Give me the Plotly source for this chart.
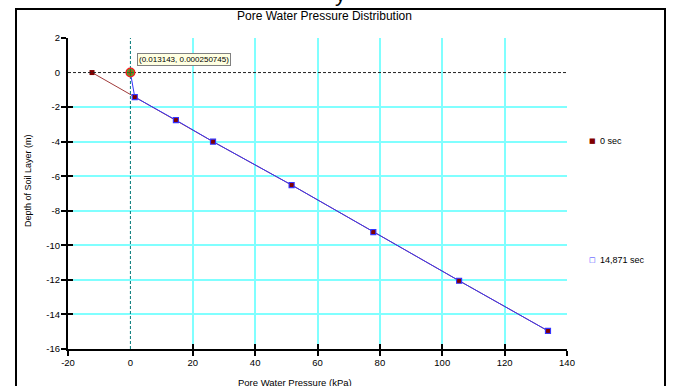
import plotly.graph_objects as go

# ---- data ----
x_ticks = [-20, 0, 20, 40, 60, 80, 100, 120, 140]
y_ticks = [2, 0, -2, -4, -6, -8, -10, -12, -14, -16]
x_range = [-20, 140]
y_range = [-16, 2]

series0_name = "0 sec"
series0_x = [-12.3, 1.4, 14.6, 26.5, 51.7, 77.9, 105.4, 133.9]
series0_y = [0.0, -1.42, -2.75, -4.0, -6.51, -9.23, -12.05, -14.95]

series1_name = "14,871 sec"
series1_x = [0.013143, 1.4, 14.6, 26.5, 51.7, 77.9, 105.4, 133.9]
series1_y = [0.000250745, -1.42, -2.75, -4.0, -6.51, -9.23, -12.05, -14.95]

cursor_x = series1_x[0]
cursor_y = series1_y[0]
tooltip = "(0.013143, 0.000250745)"

title = "Pore Water Pressure Distribution"
x_title = "Pore Water Pressure (kPa)"
y_title = "Depth of Soil Layer (m)"

# ---- style ----
W, H = 673, 386
L, R, T, B = 68, 567, 38, 349
FONT = "Liberation Sans, Arial, sans-serif"
GRID = "#80FFFF"
RED = "#800000"
REDLINE = "#A03A3A"
BLUE = "#3535FF"


def px_x(p):
    return (p - L) / (R - L)


def px_y(p):
    return (B - p) / (B - T)


x_nz = [v for v in x_ticks if v != 0]
y_nz = [v for v in y_ticks if v != 0]

fig = go.Figure()

# series 0 (under)
fig.add_trace(go.Scatter(
    x=series0_x, y=series0_y, mode="lines+markers", name=series0_name,
    line=dict(color=REDLINE, width=1),
    marker=dict(symbol="square", size=5, color=RED),
    showlegend=False, hoverinfo="skip"))
# series 1 (over)
fig.add_trace(go.Scatter(
    x=series1_x, y=series1_y, mode="lines+markers", name=series1_name,
    line=dict(color=BLUE, width=1),
    marker=dict(symbol="square-open", size=5, color=BLUE, line=dict(width=1.2, color=BLUE)),
    showlegend=False, hoverinfo="skip"))
# red fills visible inside blue squares
fig.add_trace(go.Scatter(
    x=series0_x[1:], y=series0_y[1:], mode="markers",
    marker=dict(symbol="square", size=3.5, color=RED),
    showlegend=False, hoverinfo="skip"))

# crosshair on overlay axes 2
fig.add_trace(go.Scatter(
    x=[cursor_x, cursor_x], y=y_range, mode="lines", xaxis="x2", yaxis="y2",
    line=dict(color="#007878", width=1, dash="3px,2px"),
    showlegend=False, hoverinfo="skip"))
fig.add_trace(go.Scatter(
    x=x_range, y=[cursor_y, cursor_y], mode="lines", xaxis="x2", yaxis="y2",
    line=dict(color="#222222", width=1, dash="3px,2px"),
    showlegend=False, hoverinfo="skip"))

# highlighted point on overlay axes 3
fig.add_trace(go.Scatter(
    x=[cursor_x], y=[cursor_y], mode="markers", xaxis="x3", yaxis="y3",
    marker=dict(symbol="circle", size=10, color="#F02020", line=dict(width=0)),
    showlegend=False, hoverinfo="skip"))
fig.add_trace(go.Scatter(
    x=[cursor_x], y=[cursor_y], mode="markers", xaxis="x3", yaxis="y3",
    marker=dict(symbol="circle-open", size=6, color="#30C030", line=dict(width=1.2, color="#30C030")),
    showlegend=False, hoverinfo="skip"))
fig.add_trace(go.Scatter(
    x=[cursor_x], y=[cursor_y], mode="markers", xaxis="x3", yaxis="y3",
    marker=dict(symbol="cross-thin-open", size=5, color="#208020", line=dict(width=1, color="#208020")),
    showlegend=False, hoverinfo="skip"))

common = dict(zeroline=False, fixedrange=True, autorange=False)

fig.update_layout(
    width=W, height=H,
    margin=dict(l=L, r=W - R, t=T, b=H - B, pad=0),
    paper_bgcolor="white", plot_bgcolor="white",
    font=dict(family=FONT, size=9, color="#000000"),
    showlegend=False,
    xaxis=dict(range=x_range, tickvals=x_nz, ticks="outside", ticklen=5, tickwidth=2,
               tickcolor="black", showticklabels=False, showgrid=True,
               gridcolor=GRID, gridwidth=1.5, showline=True, linecolor="black",
               linewidth=2, **common),
    yaxis=dict(range=y_range, tickvals=y_nz, ticks="outside", ticklen=5, tickwidth=2,
               tickcolor="black", showticklabels=False, showgrid=True,
               gridcolor=GRID, gridwidth=1.5, showline=True, linecolor="black",
               linewidth=2, **common),
    xaxis2=dict(range=x_range, overlaying="x", anchor="y2", tickvals=x_nz, ticks="inside",
                ticklen=5, tickwidth=2, tickcolor="black", showticklabels=False,
                showgrid=False, showline=False, **common),
    yaxis2=dict(range=y_range, overlaying="y", anchor="x2", tickvals=y_nz, ticks="inside",
                ticklen=5, tickwidth=2, tickcolor="black", showticklabels=False,
                showgrid=False, showline=False, **common),
    xaxis3=dict(range=x_range, overlaying="x", anchor="y3", tickvals=x_ticks,
                ticktext=[str(v) for v in x_ticks], ticks="", showticklabels=True,
                ticklabelstandoff=6, tickfont=dict(size=9.5, family=FONT),
                showgrid=False, showline=False, **common),
    yaxis3=dict(range=y_range, overlaying="y", anchor="x3", tickvals=y_ticks,
                ticktext=[str(v) for v in y_ticks], ticks="", showticklabels=True,
                ticklabelstandoff=7, tickfont=dict(size=9.5, family=FONT),
                showgrid=False, showline=False, **common),
)

# outer frame
fig.add_shape(type="rect", xref="paper", yref="paper",
              x0=px_x(16), x1=px_x(665), y0=px_y(395), y1=px_y(9),
              line=dict(color="black", width=2), fillcolor="rgba(0,0,0,0)", layer="above")

ann = []
# descender of a heading above the frame, cut by the page top
ann.append(dict(text="y", xref="paper", yref="paper", x=px_x(340), y=px_y(8),
                xanchor="center", yanchor="bottom", showarrow=False,
                font=dict(size=22, family=FONT)))
ann.append(dict(text=title, xref="paper", yref="paper", x=px_x(324), y=px_y(16),
                xanchor="center", yanchor="middle", showarrow=False,
                font=dict(size=12, family=FONT)))
ann.append(dict(text=y_title, xref="paper", yref="paper", x=px_x(28), y=px_y(181),
                xanchor="center", yanchor="middle", textangle=-90, showarrow=False,
                font=dict(size=9, family=FONT)))
ann.append(dict(text=x_title, xref="paper", yref="paper", x=px_x(295), y=px_y(382),
                xanchor="center", yanchor="middle", showarrow=False,
                font=dict(size=9.5, family=FONT)))
# tooltip
ann.append(dict(text=tooltip, xref="x3", yref="y3", x=cursor_x, y=cursor_y,
                xanchor="left", yanchor="bottom", xshift=7, yshift=7, showarrow=False,
                bgcolor="#FFFFE1", bordercolor="#808080", borderwidth=1, borderpad=1,
                font=dict(size=8, family=FONT)))
# legend
for name, yy, sym, col in [(series0_name, 141, "■", RED), (series1_name, 260, "□", BLUE)]:
    ann.append(dict(text=sym, xref="paper", yref="paper", x=px_x(592), y=px_y(yy),
                    xanchor="center", yanchor="middle", showarrow=False,
                    font=dict(size=7, family="DejaVu Sans", color=col)))
    ann.append(dict(text=name, xref="paper", yref="paper", x=px_x(598), y=px_y(yy),
                    xanchor="left", yanchor="middle", showarrow=False,
                    font=dict(size=9, family=FONT)))
fig.update_layout(annotations=ann)

fig.write_html("out.html")
